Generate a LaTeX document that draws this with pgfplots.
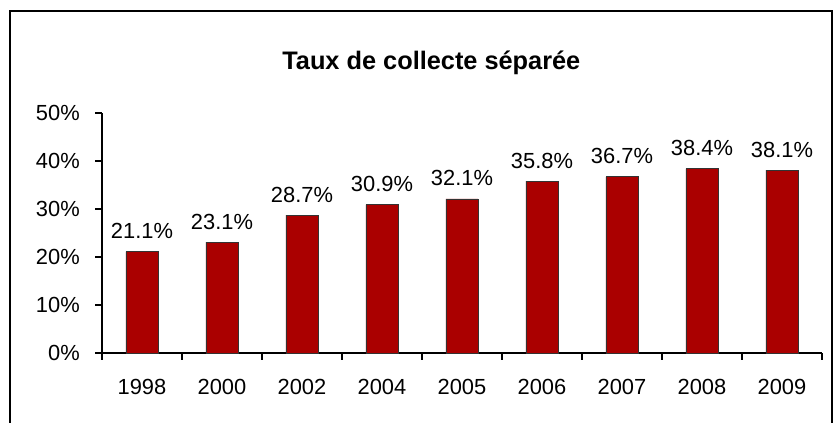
\documentclass[border=0pt]{standalone}
\usepackage{pgfplots}
\pgfplotsset{compat=1.18}
\usepackage{fontspec}
\setmainfont{Liberation Sans}
\definecolor{barred}{HTML}{AA0000}
\begin{document}
\begin{tikzpicture}
\useasboundingbox (-76.5pt,-52.5pt) rectangle (549.75pt,264.75pt);
\draw[line width=1.1pt] (-69pt,-53pt) -- (-69pt,256.5pt) -- (547.5pt,256.5pt) -- (547.5pt,-53pt);
\begin{axis}[
  at={(0pt,0pt)}, anchor=south west,
  scale only axis, width=540pt, height=180pt,
  xmin=-0.5, xmax=8.5, ymin=0, ymax=50,
  axis x line=bottom, axis y line=left,
  axis line style={-, line width=1.1pt},
  xtick={0,...,8},
  xticklabels={1998,2000,2002,2004,2005,2006,2007,2008,2009},
  major x tick style={draw=none},
  minor xtick={-0.5,0.5,...,8.5},
  minor tick length=5pt,
  every minor tick/.style={line width=1.1pt, black},
  ytick={0,10,...,50},
  yticklabels={0\%,10\%,20\%,30\%,40\%,50\%},
  major tick length=5pt,
  tick align=outside,
  every tick/.style={line width=1.1pt, black},
  tick label style={font=\fontsize{16.4}{19}\selectfont},
  xticklabel style={anchor=base, inner sep=0pt, yshift=-26.5pt},
  yticklabel style={anchor=east, inner sep=0pt, xshift=-11.5pt},
  ybar, bar width=24pt,
  nodes near coords={\pgfmathprintnumber[fixed,fixed zerofill,precision=1]{\pgfplotspointmeta}\%},
  every node near coord/.style={font=\fontsize{16.4}{19}\selectfont, anchor=base, inner sep=0pt, yshift=9.75pt},
  /pgf/number format/assume math mode=true,
  clip=false,
]
\addplot[fill=barred, draw=black!80, line width=0.6pt] coordinates {
 (0,21.1) (1,23.1) (2,28.7) (3,30.9) (4,32.1) (5,35.8) (6,36.7) (7,38.4) (8,38.1)};
\end{axis}
\node[anchor=base, font=\fontsize{19}{22}\selectfont\bfseries, inner sep=0pt] at (247pt,212.25pt) {Taux de collecte séparée};
\end{tikzpicture}
\end{document}
